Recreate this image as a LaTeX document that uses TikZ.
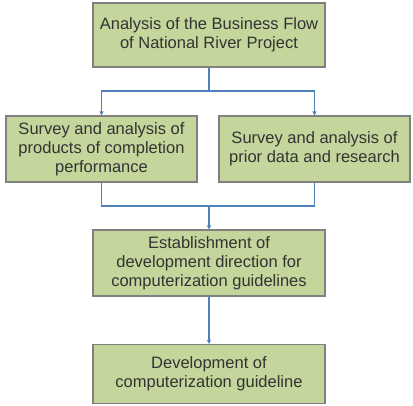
\documentclass[tikz,border=0pt]{standalone}
\usepackage{fontspec}
\setmainfont{Liberation Sans}
\usetikzlibrary{arrows.meta,positioning}
\definecolor{boxfill}{RGB}{196,214,155}
\definecolor{boxline}{RGB}{128,128,128}
\definecolor{linkblue}{RGB}{79,129,189}
\tikzset{
  stepbox/.style={draw=boxline, fill=boxfill, line width=1.1pt, inner sep=0pt,
    align=center, font=\fontsize{16.5}{19}\selectfont, text=black!80},
  link/.style={draw=linkblue, line width=1.3pt},
  linkarrow/.style={link, -{Triangle[length=4pt,width=4pt]}},
}
\begin{document}
\begin{tikzpicture}[x=1pt,y=-1pt]
\useasboundingbox (0,0) rectangle (413,405);
\node[stepbox, minimum width=232pt, minimum height=64pt] (a) at (209,35) {Analysis of the Business Flow\\of National River Project};
\node[stepbox, minimum width=191pt, minimum height=66pt] (l) at (101.5,149) {Survey and analysis of\\products of completion\\performance};
\node[stepbox, minimum width=191pt, minimum height=66pt] (r) at (314.5,149) {Survey and analysis of\\prior data and research};
\node[stepbox, minimum width=232pt, minimum height=66pt] (c) at (209,263) {Establishment of\\development direction for\\computerization guidelines};
\node[stepbox, minimum width=232pt, minimum height=59pt] (d) at (209,374) {Development of\\computerization guideline};
\coordinate (s) at (209,91);
\coordinate (j) at (209,206);
\draw[link] (a.south) -- (s);
\draw[linkarrow] (s) -| (l.north);
\draw[linkarrow] (s) -| (r.north);
\draw[link] (l.south) |- (j);
\draw[link] (r.south) |- (j);
\draw[linkarrow] (j) -- (c.north);
\draw[linkarrow] (c.south) -- (d.north);
\end{tikzpicture}
\end{document}
